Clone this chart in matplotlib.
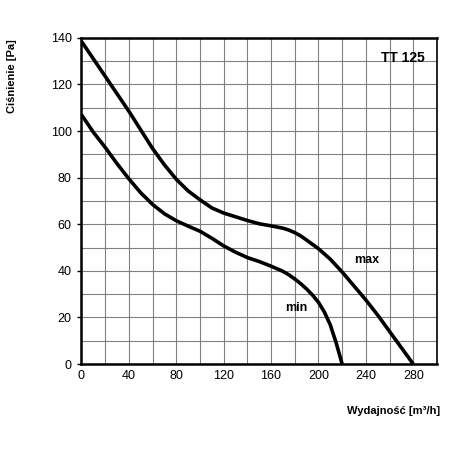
import matplotlib.pyplot as plt

plt.rcParams['font.family'] = ['Liberation Sans', 'DejaVu Sans']

# max curve
max_x = [0, 10, 20, 30, 40, 50, 60, 70, 80, 90, 100, 110, 120, 130, 140, 150, 160, 170, 175, 180, 185, 190, 200, 210, 220, 230, 240, 250, 260, 270, 280]
max_y = [138.5, 131, 123.5, 116, 108.5, 100.5, 92.5, 85.5, 79.3, 74.3, 70.5, 67, 64.8, 63.2, 61.6, 60.2, 59.3, 58.3, 57.5, 56.4, 55, 53.2, 49.5, 45, 39.5, 33.5, 27.5, 21, 14, 7, 0]

# min curve
min_x = [0, 10, 20, 30, 40, 50, 60, 70, 80, 90, 100, 110, 120, 130, 140, 150, 160, 170, 175, 180, 185, 190, 195, 200, 205, 210, 215, 220]
min_y = [107, 99.5, 93, 86, 79.5, 73.5, 68.5, 64.5, 61.5, 59.2, 57, 54, 50.7, 48, 45.7, 44, 42, 39.8, 38.3, 36.5, 34.5, 32.2, 29.6, 26.5, 22.3, 16.8, 9, 0]

xticks = [0, 40, 80, 120, 160, 200, 240, 280]
yticks = [0, 20, 40, 60, 80, 100, 120, 140]

fig = plt.figure(figsize=(4.5, 4.5), dpi=100)
ax = fig.add_axes([0.181, 0.191, 0.79, 0.725])

ax.plot(max_x, max_y, color='black', lw=2.6, solid_capstyle='butt', solid_joinstyle='round')
ax.plot(min_x, min_y, color='black', lw=2.6, solid_capstyle='butt', solid_joinstyle='round')

ax.set_xlim(0, 300)
ax.set_ylim(0, 140)
ax.set_xticks(xticks)
ax.set_yticks(yticks)
ax.set_xticks(range(0, 301, 20), minor=True)
ax.set_yticks(range(0, 141, 10), minor=True)
ax.grid(True, which='both', color='#808080', lw=0.8)
ax.tick_params(which='both', length=0)
ax.tick_params(axis='y', which='major', length=3, width=1)
ax.tick_params(labelsize=9, pad=4)

for s in ['left', 'bottom', 'top']:
    ax.spines[s].set_linewidth(1.8)
ax.spines['right'].set_linewidth(1.2)

ax.text(271, 131.5, 'TT 125', fontsize=10, fontweight='bold', ha='center', va='center')
ax.text(241, 44.5, 'max', fontsize=9, fontweight='bold', ha='center', va='center')
ax.text(181, 24, 'min', fontsize=9, fontweight='bold', ha='center', va='center')

fig.text(0.027, 0.83, 'Ciśnienie [Pa]', rotation=90, fontsize=8, fontweight='bold', ha='center', va='center')
fig.text(0.979, 0.087, 'Wydajność [m³/h]', fontsize=8, fontweight='bold', ha='right', va='center')

fig.savefig('out.png', dpi=100)
